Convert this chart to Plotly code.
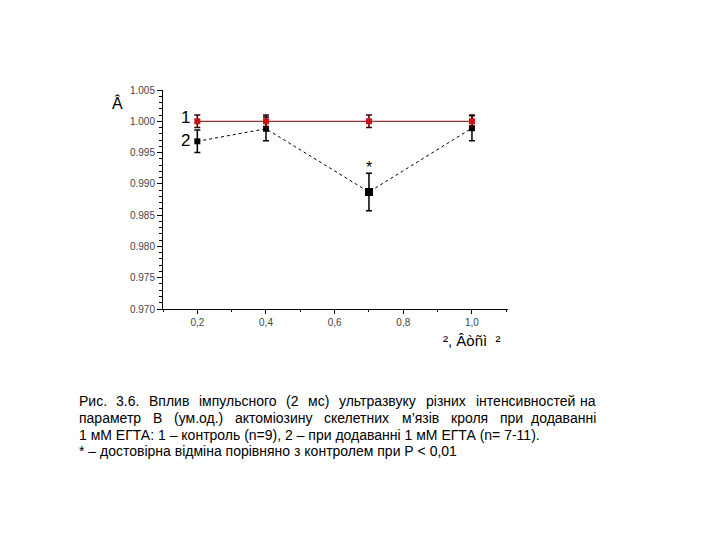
import plotly.graph_objects as go

# data
x1 = [0.2, 0.4, 0.7, 1.0]
y1 = [1.000, 1.000, 1.000, 1.000]
e1 = [0.001, 0.001, 0.001, 0.001]
x2 = [0.2, 0.4, 0.7, 1.0]
y2 = [0.9968, 0.9988, 0.9887, 0.9989]
e2 = [0.0018, 0.0019, 0.003, 0.002]
x_ticks = [0.2, 0.4, 0.6, 0.8, 1.0]
x_ticklabels = ["0,2", "0,4", "0,6", "0,8", "1,0"]
y_ticks = [0.970, 0.975, 0.980, 0.985, 0.990, 0.995, 1.000, 1.005]
y_ticklabels = ["0.970", "0.975", "0.980", "0.985", "0.990", "0.995", "1.000", "1.005"]
caption_line1 = "Рис. 3.6. Вплив імпульсного (2 мс) ультразвуку різних інтенсивностей на"
caption_line2 = "параметр В (ум.од.) актоміозину скелетних м’язів кроля при додаванні"
caption_line3 = "1 мМ ЕГТА: 1 – контроль (n=9), 2 – при додаванні 1 мМ ЕГТА (n= 7-11)."
caption_line4 = "* – достовірна відміна порівняно з контролем при Р < 0,01"

# layout
W, H = 720, 540
L, R, T, B = 163, 508, 90, 309
CAP_LEFT, CAP_RIGHT, CAP_SIZE = 77, 598, 14
# approximate Arial advance widths (per 1000 em) for justifying the caption
ADV = dict(zip("абвгдежзийклмнопрстуфхцчшщьюяі", [556, 573, 531, 365, 583, 556, 669, 458, 559, 559,
                                                   438, 583, 688, 552, 556, 542, 556, 500, 458, 500,
                                                   823, 500, 573, 521, 802, 823, 521, 750, 542, 222]))
ADV.update({"Р": 667, "В": 667, ".": 278, "(": 333, ")": 333, "’": 222})
ADV.update({d: 556 for d in "0123456789"})

fig = go.Figure()
fig.add_trace(go.Scatter(
    x=x2, y=y2, mode="lines+markers",
    line=dict(color="black", width=1, dash="dot"),
    marker=dict(symbol="square", size=[6, 6, 8, 6], color="black", opacity=1,
                line=dict(width=0)),
    error_y=dict(type="data", array=e2, visible=True, color="black", thickness=1.5, width=3),
    showlegend=False,
))
fig.add_trace(go.Scatter(
    x=x1, y=y1, mode="lines+markers",
    line=dict(color="#7a0000", width=1),
    marker=dict(symbol="square", size=6, color="#d01010", opacity=1, line=dict(width=0)),
    error_y=dict(type="data", array=e1, visible=True, color="#3a0000", thickness=1.5, width=3),
    showlegend=False,
))


def px(x):
    return (x - L) / (R - L)


def py(y):
    return (B - y) / (B - T)


def txt(x, y, text, size=16, xanchor="center"):
    return dict(x=px(x), y=py(y), xref="paper", yref="paper", text=text, showarrow=False,
                xanchor=xanchor, yanchor="middle",
                font=dict(size=size, color="black", family="Liberation Sans"))


def justified(line, y):
    words = line.split(" ")
    widths = [sum(ADV.get(c, 556) for c in w) * CAP_SIZE / 1000 for w in words]
    gap = (CAP_RIGHT - CAP_LEFT - sum(widths)) / (len(words) - 1)
    out, xx = [], CAP_LEFT
    for i, (w, wd) in enumerate(zip(words, widths)):
        if i == len(words) - 1:
            out.append(txt(CAP_RIGHT, y, w, CAP_SIZE, xanchor="right"))
        else:
            out.append(txt(xx, y, w, CAP_SIZE, xanchor="left"))
        xx += wd + gap
    return out


ann = []
ann.append(dict(x=x2[2], y=y2[2] + e2[2], xref="x", yref="y", text="*", showarrow=False,
                xanchor="center", yanchor="bottom", yshift=-5,
                font=dict(size=16, color="black", family="Liberation Sans")))
ann.append(txt(185, 117, "1", 17))
ann.append(txt(185, 140, "2", 17))
ann.append(txt(117, 103, "Â", 16))
ann.append(txt(472, 340, "², Âòñì  ²", 15))

ann += justified(caption_line1, 401)
ann += justified(caption_line2, 418)
ann.append(txt(CAP_LEFT, 434.5, caption_line3, CAP_SIZE, xanchor="left"))
ann.append(txt(CAP_LEFT, 451, caption_line4, CAP_SIZE, xanchor="left"))

fig.update_layout(
    width=W, height=H,
    margin=dict(l=L, r=W - R, t=T, b=H - B, pad=0),
    paper_bgcolor="white", plot_bgcolor="white",
    annotations=ann,
    xaxis=dict(range=[0.1, 1.105], tickvals=x_ticks, ticktext=x_ticklabels,
               showgrid=False, zeroline=False, showline=True, linecolor="black", linewidth=1,
               ticks="outside", ticklen=4, tickcolor="black",
               minor=dict(dtick=0.1, tick0=0.1, ticks="outside", ticklen=2, tickcolor="black"),
               tickfont=dict(size=10, color="#444", family="Liberation Sans")),
    yaxis=dict(range=[0.970, 1.005], tickvals=y_ticks, ticktext=y_ticklabels,
               showgrid=False, zeroline=False, showline=True, linecolor="black", linewidth=1,
               ticks="outside", ticklen=5, tickcolor="black",
               minor=dict(dtick=0.001, ticks="outside", ticklen=3, tickcolor="black"),
               tickfont=dict(size=10, color="#444", family="Liberation Sans")),
)

fig.write_html("out.html")
